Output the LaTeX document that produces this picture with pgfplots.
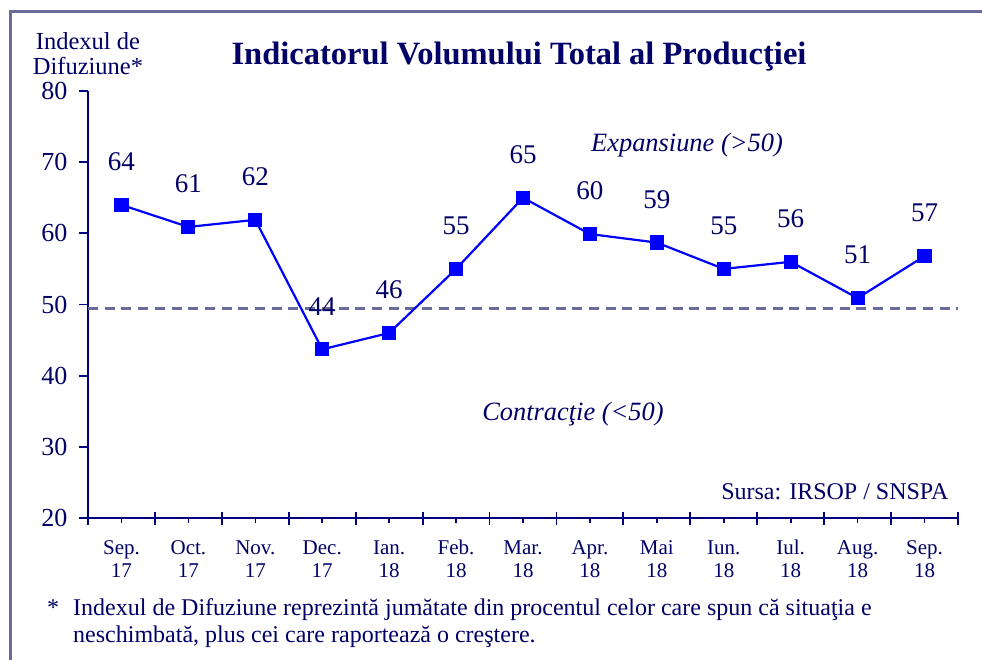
\documentclass[border=0pt]{standalone}
\usepackage{fontspec}
\setmainfont{Liberation Serif}
\usepackage{pgfplots}
\pgfplotsset{compat=1.18}
\usepackage{pgfplotstable}
\definecolor{navy}{HTML}{000066}
\definecolor{axisnavy}{HTML}{000080}
\definecolor{framecol}{HTML}{6B6B9B}
\definecolor{serieblue}{HTML}{0000FF}

\pgfplotstableread{
x y lab
0.5 64.0 64
1.5 60.9 61
2.5 61.9 62
3.5 43.7 44
4.5 46.0 46
5.5 55.0 55
6.5 65.0 65
7.5 59.9 60
8.5 58.7 59
9.5 55.0 55
10.5 56.0 56
11.5 50.9 51
12.5 56.8 57
}\datatable

\begin{document}
\begin{tikzpicture}[x=1pt,y=1pt]
\useasboundingbox (0,0) rectangle (982,-660);
\draw[framecol, line width=3.5pt] (10.5,-660) -- (10.5,-11.5) -- (982,-11.5);

% main axis: y axis, data
\begin{axis}[
  at={(88pt,-518pt)}, anchor=south west,
  width=870pt, height=427pt, scale only axis,
  xmin=0, xmax=13, ymin=20, ymax=80,
  clip=false,
  axis lines*=left,
  axis line style={axisnavy, line width=1.8pt},
  xtick=\empty,
  ytick={20,30,...,80},
  ytick pos=left,
  tick align=outside,
  major tick length=9pt,
  tick style={axisnavy, line width=1.8pt},
  /pgf/number format/assume math mode=true,
  yticklabel style={text=navy, font=\fontsize{26}{30}\selectfont, xshift=-8pt},
]
\addplot[framecol, line width=3pt, dash pattern=on 10pt off 6.7pt, forget plot]
  coordinates {(0,49.5) (13,49.5)};
\addplot[serieblue, line width=2.2pt, mark=square*, mark size=6pt,
  mark options={solid, fill=serieblue, draw=serieblue},
  nodes near coords, point meta=explicit symbolic,
  nodes near coords style={anchor=center, yshift=43pt, text=navy,
    font=\fontsize{27}{31}\selectfont}]
  table[x=x, y=y, meta=lab] {\datatable};
\end{axis}

% major x ticks (crossing the axis)
\begin{axis}[
  at={(88pt,-518pt)}, anchor=south west,
  width=870pt, height=427pt, scale only axis,
  xmin=0, xmax=13, ymin=20, ymax=80,
  axis x line*=bottom, axis y line=none,
  axis line style={axisnavy, line width=1.8pt},
  xtick={0,1,...,13}, xticklabels={},
  tick align=center, major tick length=13pt,
  tick style={axisnavy, line width=1.8pt},
]
\end{axis}

% minor x ticks at category centres with labels
\begin{axis}[
  at={(88pt,-518pt)}, anchor=south west,
  width=870pt, height=427pt, scale only axis,
  xmin=0, xmax=13, ymin=20, ymax=80,
  axis x line*=bottom, axis y line=none,
  axis line style={axisnavy, line width=1.8pt},
  xtick={0.5,1.5,...,12.5},
  xticklabels={\strut Sep.\\17,\strut Oct.\\17,\strut Nov.\\17,\strut Dec.\\17,\strut Ian.\\18,\strut Feb.\\18,\strut Mar.\\18,\strut Apr.\\18,\strut Mai\\18,\strut Iun.\\18,\strut Iul.\\18,\strut Aug.\\18,\strut Sep.\\18},
  tick align=outside, major tick length=5pt,
  tick style={axisnavy, line width=1.6pt},
  xticklabel style={text=navy, align=center, font=\fontsize{21}{23.5}\selectfont, yshift=-11.5pt},
]
\end{axis}

\node[text=navy, font=\fontsize{24.5}{25}\selectfont] at (88,-41) {Indexul de};
\node[text=navy, font=\fontsize{24.5}{25}\selectfont] at (88,-66) {Difuziune*};
\node[text=navy, font=\bfseries\fontsize{32.5}{36}\selectfont] at (519,-57) {Indicatorul Volumului Total al Producţiei};
\node[text=navy, font=\itshape\fontsize{26.4}{30}\selectfont] at (687,-145) {Expansiune (>50)};
\node[text=navy, font=\itshape\fontsize{26.4}{30}\selectfont] at (573,-414) {Contracţie (<50)};
\node[text=navy, anchor=east, font=\fontsize{24}{28}\selectfont] at (952,-492) {Sursa: IRSOP / SNSPA};
\node[text=navy, anchor=base, font=\fontsize{24}{28}\selectfont] at (53,-615) {*};
\node[text=navy, anchor=base west, inner sep=0pt, font=\fontsize{24}{28}\selectfont] at (73,-615) {Indexul de Difuziune reprezintă jumătate din procentul celor care spun că situaţia e};
\node[text=navy, anchor=base west, inner sep=0pt, font=\fontsize{24}{28}\selectfont] at (73,-642) {neschimbată, plus cei care raportează o creştere.};
\end{tikzpicture}
\end{document}
